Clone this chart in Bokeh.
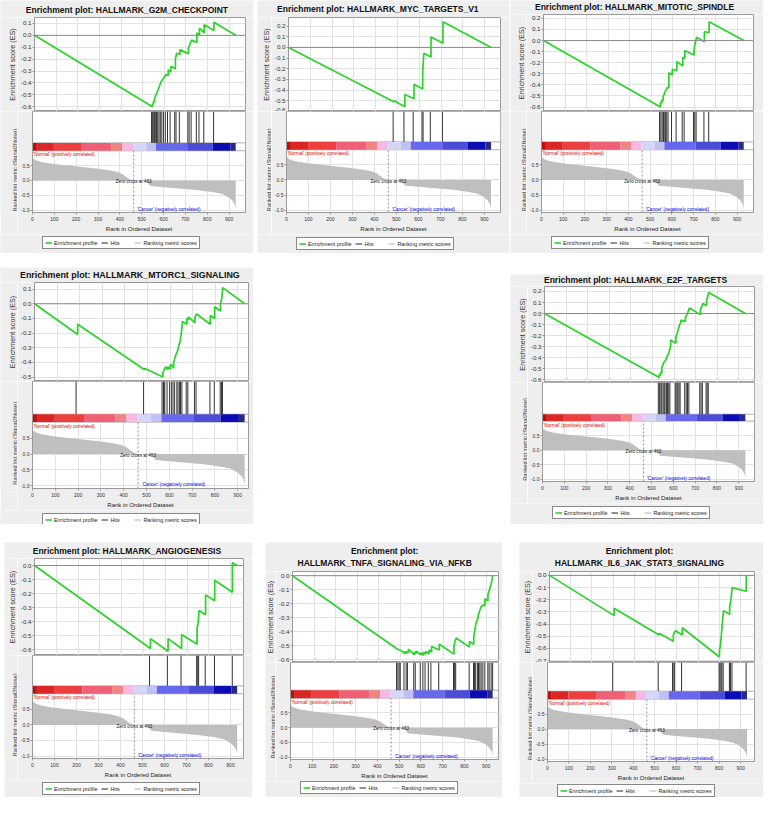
import math
from bokeh.plotting import figure
from bokeh.models import (Range1d, FixedTicker, NumeralTickFormatter, Span,
                          Legend, LegendItem, Spacer)
from bokeh.core.properties import value
from bokeh.layouts import column, row
from bokeh.embed import file_html
from bokeh.resources import INLINE

# ---------------------------------------------------------------- data
N_GENES = 930
ZERO_CROSS = 463
x_ticks = [0, 100, 200, 300, 400, 500, 600, 700, 800, 900]
metric_ticks = [-1.0, -0.5, 0.0, 0.5]

metric_rank = [0, 3, 15, 40, 90, 160, 239, 300, 358, 390, 410, 425, 440, 455, 463,
               490, 522, 540, 600, 700, 760, 830, 870, 900, 915, 925, 930]
metric_value = [0.82, 0.74, 0.68, 0.62, 0.56, 0.50, 0.44, 0.39, 0.33, 0.28, 0.22, 0.14, 0.06, 0.01, 0.0,
                -0.01, -0.03, -0.19, -0.23, -0.29, -0.33, -0.40, -0.46, -0.58, -0.68, -0.80, -0.95]

cbar_edges = [0, 20, 98, 226, 362, 412, 460, 520, 565, 708, 825, 905, 930]
cbar_colors = ["#c40c0c", "#dc2626", "#ec4040", "#f06074", "#f08484", "#f9b9e3",
               "#d6d6fa", "#c0c0f2", "#6868ec", "#4c4cd8", "#0c0cb4", "#28288a"]

g2m_rank = [0, 545, 545, 550, 550, 555, 555, 559, 564, 568, 573, 579, 585, 592, 600, 608, 618, 618,
            630, 630, 651, 651, 657, 672, 672, 711, 711, 717, 726, 750, 750, 762, 762, 784, 784, 829, 829, 930]
g2m_es = [0, -0.60, -0.575, -0.58, -0.55, -0.56, -0.53, -0.51, -0.49, -0.47, -0.45, -0.42, -0.39, -0.37,
          -0.35, -0.33, -0.34, -0.29, -0.31, -0.26, -0.28, -0.20, -0.15, -0.16, -0.12, -0.155, -0.11,
          -0.08, -0.04, -0.06, 0.02, 0.00, 0.06, 0.02, 0.09, 0.04, 0.11, 0.0]
g2m_hits = [545, 550, 555, 559, 564, 568, 573, 579, 585, 592, 600, 608, 618, 630, 651, 657, 672,
            711, 717, 726, 750, 762, 784, 829]

myc_rank = [0, 485, 485, 534, 534, 576, 576, 616, 616, 621, 654, 654, 709, 709, 930]
myc_es = [0, -0.51, -0.50, -0.555, -0.44, -0.48, -0.345, -0.39, -0.22, -0.055, -0.09, 0.097, 0.04, 0.24, 0.0]
myc_hits = [485, 534, 576, 616, 621, 654, 709]

mit_rank = [0, 543, 543, 549, 549, 555, 555, 561, 567, 571, 576, 582, 582, 598, 598, 619, 619,
            647, 647, 656, 656, 699, 699, 705, 711, 747, 747, 769, 769, 930]
mit_es = [0, -0.60, -0.555, -0.565, -0.535, -0.545, -0.51, -0.48, -0.45, -0.44, -0.42, -0.43, -0.29,
          -0.31, -0.26, -0.27, -0.19, -0.23, -0.15, -0.16, -0.09, -0.13, -0.08, -0.02, 0.03, -0.01,
          0.08, 0.07, 0.17, 0.0]
mit_hits = [543, 549, 555, 561, 567, 571, 576, 582, 598, 619, 647, 656, 699, 705, 711, 747, 769]

mtor_rank = [0, 191, 191, 487, 487, 568, 568, 574, 577, 580, 590, 590, 601, 601, 609, 616, 616, 623,
             633, 638, 645, 649, 655, 674, 674, 681, 681, 710, 710, 717, 778, 778, 797, 797, 823, 823,
             829, 833, 930]
mtor_es = [0, -0.21, -0.14, -0.45, -0.44, -0.50, -0.47, -0.45, -0.44, -0.43, -0.45, -0.43, -0.445,
           -0.415, -0.42, -0.44, -0.40, -0.36, -0.32, -0.29, -0.25, -0.21, -0.12, -0.14, -0.10, -0.11,
           -0.09, -0.13, -0.09, -0.07, -0.14, -0.08, -0.10, -0.02, -0.05, 0.00, 0.04, 0.11, 0.0]
mtor_hits = [191, 487, 568, 574, 577, 580, 590, 601, 609, 616, 623, 633, 638, 645, 649, 655, 674,
             681, 710, 717, 778, 797, 823, 829, 833]

e2f_rank = [0, 531, 531, 537, 537, 543, 543, 547, 553, 558, 562, 569, 573, 579, 584, 584, 608, 608,
            612, 617, 621, 626, 631, 631, 652, 652, 659, 665, 671, 721, 721, 727, 733, 750, 750, 755, 760, 930]
e2f_es = [0, -0.58, -0.55, -0.56, -0.53, -0.54, -0.49, -0.47, -0.44, -0.43, -0.42, -0.38, -0.37, -0.33,
          -0.30, -0.24, -0.27, -0.22, -0.19, -0.16, -0.13, -0.10, -0.08, -0.06, -0.075, -0.04, -0.01,
          0.02, 0.05, -0.01, 0.03, 0.06, 0.09, 0.07, 0.12, 0.15, 0.19, 0.0]
e2f_hits = [531, 537, 543, 547, 553, 558, 562, 569, 573, 579, 584, 608, 612, 617, 621, 626, 631,
            652, 659, 665, 671, 721, 727, 733, 750, 755, 760]

ang_rank = [0, 532, 532, 613, 613, 675, 675, 746, 746, 751, 755, 785, 785, 827, 827, 908, 908, 930]
ang_es = [0, -0.59, -0.52, -0.61, -0.52, -0.59, -0.49, -0.56, -0.44, -0.41, -0.32, -0.35, -0.21,
          -0.25, -0.105, -0.19, 0.02, 0.0]
ang_hits = [532, 613, 675, 746, 751, 755, 785, 827, 908]

tnf_rank = [0, 488, 500, 505, 522, 522, 532, 532, 538, 538, 567, 567, 574, 574, 597, 597, 609, 609,
            619, 619, 634, 634, 646, 646, 682, 682, 750, 750, 754, 760, 822, 822, 842, 842, 847, 852,
            860, 865, 871, 877, 885, 894, 894, 908, 908, 914, 923, 930]
tnf_es = [0, -0.525, -0.53, -0.535, -0.557, -0.54, -0.555, -0.54, -0.55, -0.525, -0.565, -0.545,
          -0.555, -0.54, -0.565, -0.55, -0.57, -0.545, -0.56, -0.54, -0.56, -0.53, -0.545, -0.505,
          -0.53, -0.49, -0.56, -0.50, -0.475, -0.445, -0.51, -0.47, -0.49, -0.435, -0.39, -0.34,
          -0.31, -0.27, -0.245, -0.22, -0.21, -0.215, -0.165, -0.18, -0.135, -0.105, -0.06, 0.0]
tnf_hits = [488, 494, 500, 505, 522, 532, 538, 567, 574, 597, 609, 619, 634, 646, 682, 750, 754, 760,
            822, 842, 847, 852, 860, 865, 871, 877, 885, 894, 908, 914, 923, 930]

il6_rank = [0, 304, 304, 516, 516, 583, 583, 589, 593, 625, 625, 800, 800, 804, 809, 813, 819, 848,
            848, 853, 860, 926, 926, 930]
il6_es = [0, -0.33, -0.27, -0.49, -0.475, -0.54, -0.49, -0.465, -0.455, -0.49, -0.43, -0.67, -0.62,
          -0.58, -0.49, -0.40, -0.29, -0.32, -0.26, -0.21, -0.10, -0.13, -0.01, 0.0]
il6_hits = [304, 516, 583, 589, 593, 625, 800, 804, 809, 813, 819, 848, 853, 860, 926]

# ---------------------------------------------------------------- style / layout
SC = 0.98
def S(v):
    return int(round(v * SC))

FONT = "Liberation Sans"
PANEL_BG = "#eeeeee"
FRAME_C = "#9a9a9a"
GRID_C = "#e2e2e2"
GREEN = "#2bd32b"
RY0, RTOP = -1.08, 1.0
TICK_BORDER = 15      # px kept left of each frame for tick labels

panels = [
    dict(title=["Enrichment plot: HALLMARK_G2M_CHECKPOINT"], rank=g2m_rank, es=g2m_es, hits=g2m_hits,
         ylim=(-0.64, 0.15), xmax=975, tfs=8.5,
         g=dict(gx0=0, gx1=258, gy0=0, gy1=258, fx0=33, fx1=250, es_top=17, es_bot=113, hits_bot=146,
                cbar_bot=154, rank_bot=218, ly=241, ty=[10], tcx=129)),
    dict(title=["Enrichment plot: HALLMARK_MYC_TARGETS_V1"], rank=myc_rank, es=myc_es, hits=myc_hits,
         ylim=(-0.60, 0.28), xmax=973, tfs=8.5,
         g=dict(gx0=262, gx1=519, gy0=0, gy1=258, fx0=292, fx1=510, es_top=17, es_bot=113, hits_bot=145,
                cbar_bot=153, rank_bot=218, ly=242, ty=[9], tcx=385)),
    dict(title=["Enrichment plot: HALLMARK_MITOTIC_SPINDLE"], rank=mit_rank, es=mit_es, hits=mit_hits,
         ylim=(-0.64, 0.235), xmax=975, tfs=8.5,
         g=dict(gx0=520, gx1=779, gy0=0, gy1=258, fx0=552, fx1=768, es_top=14, es_bot=113, hits_bot=145,
                cbar_bot=153, rank_bot=218, ly=241, ty=[7], tcx=647)),
    dict(title=["Enrichment plot: HALLMARK_MTORC1_SIGNALING"], rank=mtor_rank, es=mtor_es, hits=mtor_hits,
         ylim=(-0.53, 0.145), xmax=947, tfs=8.9,
         g=dict(gx0=0, gx1=258, gy0=272, gy1=535, fx0=33, fx1=253, es_top=288, es_bot=389, hits_bot=422,
                cbar_bot=431, rank_bot=499, ly=524, ty=[280], tcx=132)),
    dict(title=["Enrichment plot: HALLMARK_E2F_TARGETS"], rank=e2f_rank, es=e2f_es, hits=e2f_hits,
         ylim=(-0.625, 0.245), xmax=972, tfs=8.5,
         g=dict(gx0=520, gx1=779, gy0=280, gy1=535, fx0=553, fx1=769, es_top=292, es_bot=390, hits_bot=422,
                cbar_bot=430, rank_bot=492, ly=517, ty=[285], tcx=648)),
    dict(title=["Enrichment plot: HALLMARK_ANGIOGENESIS"], rank=ang_rank, es=ang_es, hits=ang_hits,
         ylim=(-0.64, 0.05), xmax=959, tfs=8.5,
         g=dict(gx0=4, gx1=257, gy0=553, gy1=813, fx0=33, fx1=248, es_top=569, es_bot=668, hits_bot=700,
                cbar_bot=708, rank_bot=775, ly=798, ty=[562], tcx=129)),
    dict(title=["Enrichment plot:", "HALLMARK_TNFA_SIGNALING_VIA_NFKB"], rank=tnf_rank, es=tnf_es,
         hits=tnf_hits, ylim=(-0.62, 0.03), xmax=957, tfs=8.5,
         g=dict(gx0=270, gx1=512, gy0=553, gy1=813, fx0=296, fx1=508, es_top=583, es_bot=675, hits_bot=704,
                cbar_bot=712, rank_bot=776, ly=797, ty=[562, 574], tcx=392)),
    dict(title=["Enrichment plot:", "HALLMARK_IL6_JAK_STAT3_SIGNALING"], rank=il6_rank, es=il6_es,
         hits=il6_hits, ylim=(-0.715, 0.032), xmax=965, tfs=8.5,
         g=dict(gx0=530, gx1=779, gy0=553, gy1=813, fx0=558, fx1=769, es_top=583, es_bot=675, hits_bot=705,
                cbar_bot=713, rank_bot=778, ly=800, ty=[562, 574], tcx=652)),
]


def plain_fig(w, h):
    """A figure whose frame is its whole canvas, used for texts around the plots."""
    p = figure(width=w, height=h, x_range=Range1d(0, w), y_range=Range1d(0, h),
               x_axis_location=None, y_axis_location=None, toolbar_location=None,
               output_backend="svg", min_border_left=0, min_border_right=0,
               min_border_top=0, min_border_bottom=0)
    p.grid.visible = False
    p.outline_line_color = None
    p.background_fill_color = PANEL_BG
    p.border_fill_color = PANEL_BG
    return p


def style_axis(ax, size):
    ax.axis_line_color = FRAME_C
    ax.major_tick_line_color = FRAME_C
    ax.minor_tick_line_color = None
    ax.major_tick_in = 0
    ax.major_tick_out = 2
    ax.major_label_text_font = FONT
    ax.major_label_text_font_size = size
    ax.major_label_text_color = "#333333"


def build_panel(pd):
    g = pd["g"]
    W = S(g["gx1"]) - S(g["gx0"])
    Lw = S(g["fx0"]) - TICK_BORDER - S(g["gx0"])      # width of the axis-title strip
    br = S(g["gx1"]) - S(g["fx1"])
    Wp = W - Lw
    x0, x1 = 0, pd["xmax"]
    split = S(g["rank_bot"] + 21)

    # ---------------- title
    h_t = S(g["es_top"]) - S(g["gy0"])
    tf = plain_fig(W, h_t)
    cx = SC * g["tcx"] - S(g["gx0"])
    ys = [h_t - (SC * ty - S(g["gy0"])) for ty in g["ty"]]
    tf.text(x=[cx] * len(ys), y=ys, text=pd["title"], text_align="center", text_baseline="middle",
            text_font=value(FONT), text_font_style="bold", text_font_size=value(f"{pd['tfs']}px"),
            text_color="#111111")

    # ---------------- enrichment score panel
    h_es = S(g["es_bot"]) - S(g["es_top"])
    y0, y1 = pd["ylim"]
    es = figure(width=Wp, height=h_es, x_range=Range1d(x0, x1), y_range=Range1d(y0, y1),
                x_axis_location=None, toolbar_location=None, output_backend="svg",
                min_border_left=TICK_BORDER, min_border_right=br, min_border_top=0, min_border_bottom=0)
    es.border_fill_color = PANEL_BG
    es.background_fill_color = "white"
    es.outline_line_color = FRAME_C
    es.xgrid[0].axis.ticker = FixedTicker(ticks=x_ticks)
    es.xgrid.grid_line_color = GRID_C
    es.ygrid.grid_line_color = GRID_C
    kmin = math.ceil(y0 * 10 - 1e-9)
    kmax = math.floor(y1 * 10 + 1e-9)
    es.yaxis.ticker = FixedTicker(ticks=[round(k / 10, 1) for k in range(kmin, kmax + 1)])
    es.yaxis.formatter = NumeralTickFormatter(format="0.0")
    style_axis(es.yaxis, "6.2px")
    es.yaxis.major_label_standoff = 1
    es.add_layout(Span(location=0, dimension="width", line_color="#8a8a8a", line_width=1))
    es.line(pd["rank"], pd["es"], line_color=GREEN, line_width=1.7)

    esl = plain_fig(Lw, h_es)
    esl.text(x=[Lw - 5], y=[h_es / 2], text=["Enrichment score (ES)"], angle=math.pi / 2,
             text_align="center", text_baseline="middle", text_font=value(FONT),
             text_font_size=value("7.2px"), text_color="#333333")

    # ---------------- hits + colour band + ranked metric panel
    h_low = split - S(g["es_bot"])
    bb = split - S(g["rank_bot"])
    rank_px = S(g["rank_bot"]) - S(g["cbar_bot"])
    upp = (RTOP - RY0) / rank_px
    ly1 = RTOP + (S(g["cbar_bot"]) - S(g["es_bot"])) * upp
    band_top = RTOP + (S(g["cbar_bot"]) - S(g["hits_bot"])) * upp
    low = figure(width=Wp, height=h_low, x_range=Range1d(x0, x1), y_range=Range1d(RY0, ly1),
                 toolbar_location=None, output_backend="svg",
                 min_border_left=TICK_BORDER, min_border_right=br, min_border_top=0, min_border_bottom=bb)
    low.border_fill_color = PANEL_BG
    low.background_fill_color = "white"
    low.outline_line_color = FRAME_C
    low.xgrid.grid_line_color = GRID_C
    low.ygrid.grid_line_color = GRID_C
    low.xaxis.ticker = FixedTicker(ticks=x_ticks)
    style_axis(low.xaxis, "5px")
    low.xaxis.major_label_standoff = 2
    low.xaxis.axis_label = "Rank in Ordered Dataset"
    low.xaxis.axis_label_text_font = FONT
    low.xaxis.axis_label_text_font_size = "6px"
    low.xaxis.axis_label_text_font_style = "normal"
    low.xaxis.axis_label_text_color = "#222222"
    low.xaxis.axis_label_standoff = 2
    low.yaxis.ticker = FixedTicker(ticks=metric_ticks)
    low.yaxis.formatter = NumeralTickFormatter(format="0.0")
    style_axis(low.yaxis, "5px")
    low.yaxis.major_label_standoff = 1

    low.quad(left=[x0], right=[x1], bottom=[band_top], top=[ly1], fill_color="white", line_color=None)
    low.quad(left=[x0], right=[x1], bottom=[RTOP], top=[band_top], fill_color="white",
             line_color=FRAME_C, line_width=0.8)
    low.quad(left=cbar_edges[:-1], right=cbar_edges[1:], bottom=RTOP, top=band_top,
             fill_color=cbar_colors, line_color=None)
    low.segment(x0=pd["hits"], y0=band_top, x1=pd["hits"], y1=ly1, line_color="#333333", line_width=1)
    low.varea(x=metric_rank, y1=0, y2=metric_value, fill_color="#bfbfbf")
    low.segment(x0=[ZERO_CROSS], y0=[RY0], x1=[ZERO_CROSS], y1=[RTOP], line_color="#777777",
                line_width=0.8, line_dash="2 2")
    low.text(x=[4], y=[RTOP - 0.05], text=["'Normal' (positively correlated)"], text_baseline="top",
             text_font=value(FONT), text_font_size=value("4.6px"), text_color="#e00000")
    low.text(x=[ZERO_CROSS], y=[-0.04], text=[f"Zero cross at {ZERO_CROSS}"], text_align="center",
             text_baseline="middle", text_font=value(FONT), text_font_size=value("4.6px"),
             text_color="#111111")
    low.text(x=[ZERO_CROSS + 16], y=[RY0 + 0.11], text=["'Cancer' (negatively correlated)"],
             text_baseline="middle", text_font=value(FONT), text_font_size=value("4.6px"),
             text_color="#0000dd")

    rkl = plain_fig(Lw, h_low)
    rc = (S(g["cbar_bot"]) + S(g["rank_bot"])) / 2 - S(g["es_bot"])
    rkl.text(x=[Lw - 3], y=[h_low - rc], text=["Ranked list metric (Signal2Noise)"], angle=math.pi / 2,
             text_align="center", text_baseline="middle", text_font=value(FONT),
             text_font_size=value("5.6px"), text_color="#333333")

    # ---------------- legend
    h_l = S(g["gy1"]) - split
    lf = plain_fig(W, h_l)
    nan = float("nan")
    r_es = lf.line([nan], [nan], line_color=GREEN, line_width=1.6)
    r_hit = lf.line([nan], [nan], line_color="#222222", line_width=1)
    r_met = lf.line([nan], [nan], line_color="#b5b5b5", line_width=1)
    leg_bottom = S(g["gy1"]) - S(g["ly"] + 11)
    leg = Legend(items=[LegendItem(label="Enrichment profile", renderers=[r_es]),
                        LegendItem(label="Hits", renderers=[r_hit]),
                        LegendItem(label="Ranking metric scores", renderers=[r_met])],
                 orientation="horizontal", location=(S(g["fx0"] + 10) - S(g["gx0"]), leg_bottom - 2),
                 margin=0, padding=2, spacing=4, label_standoff=2, glyph_width=7, glyph_height=7,
                 label_height=7, label_text_font=FONT, label_text_font_size="5.4px",
                 label_text_color="#222222", border_line_color="#111111", border_line_width=1,
                 background_fill_color="white", background_fill_alpha=1)
    lf.add_layout(leg)

    col = column(tf, row(esl, es, spacing=0), row(rkl, low, spacing=0), lf, spacing=0)
    return W, col


def make_row(idx, row_top):
    children = []
    cur = 0
    for i in idx:
        pd = panels[i]
        g = pd["g"]
        if S(g["gx0"]) > cur:
            children.append(Spacer(width=S(g["gx0"]) - cur, height=1))
        W, col = build_panel(pd)
        gap = S(g["gy0"]) - S(row_top)
        if gap > 0:
            col = column(Spacer(width=W, height=gap), col, spacing=0)
        children.append(col)
        cur = S(g["gx1"])
    return row(*children, spacing=0)


layout = column(make_row([0, 1, 2], 0), make_row([3, 4], 258), make_row([5, 6, 7], 535), spacing=0)

with open("out.html", "w") as f:
    f.write(file_html(layout, INLINE))
